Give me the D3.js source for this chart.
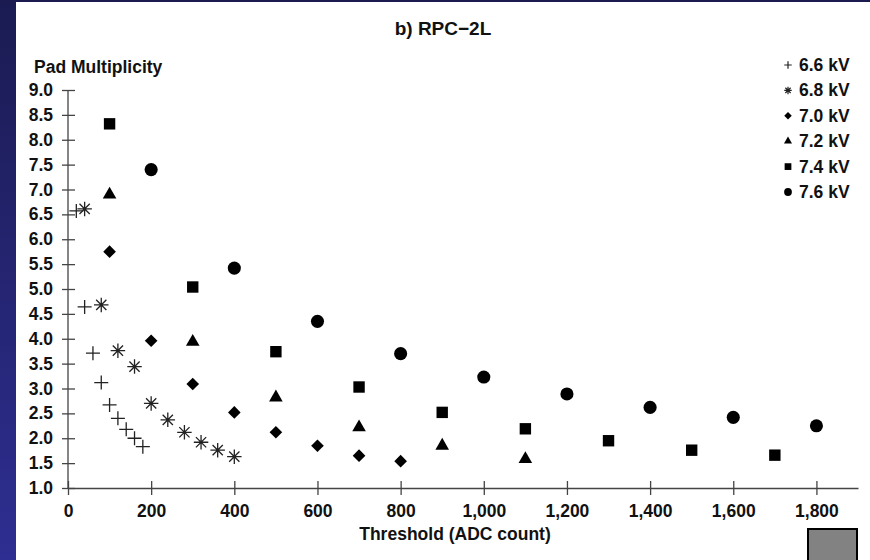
<!DOCTYPE html>
<html>
<head>
  <meta charset="utf-8">
  <script src="https://cdn.jsdelivr.net/npm/d3@7"></script>
  <style>
    body { margin: 0; background: #fff; }
    svg text { font-family: "Liberation Sans", Arial, sans-serif; font-weight: bold; fill: #111; }
  </style>
</head>
<body>
<div id="container"></div>
<script>
const width = 870, height = 560;

// data: threshold (ADC count) vs pad multiplicity
const series = ["6.6 kV", "6.8 kV", "7.0 kV", "7.2 kV", "7.4 kV", "7.6 kV"];

const th66 = [20, 40, 60, 80, 100, 120, 140, 160, 180];
const pm66 = [6.57, 4.64, 3.71, 3.12, 2.67, 2.40, 2.18, 2.00, 1.83];

const th68 = [40, 80, 120, 160, 200, 240, 280, 320, 360, 400];
const pm68 = [6.61, 4.68, 3.76, 3.44, 2.70, 2.37, 2.12, 1.92, 1.76, 1.63];

const th70 = [100, 200, 300, 400, 500, 600, 700, 800];
const pm70 = [5.75, 3.96, 3.09, 2.52, 2.12, 1.85, 1.65, 1.54];

const th72 = [100, 300, 500, 700, 900, 1100];
const pm72 = [6.90, 3.94, 2.82, 2.22, 1.85, 1.58];

const th74 = [100, 300, 500, 700, 900, 1100, 1300, 1500, 1700];
const pm74 = [8.32, 5.04, 3.74, 3.03, 2.52, 2.19, 1.95, 1.76, 1.66];

const th76 = [200, 400, 600, 800, 1000, 1200, 1400, 1600, 1800];
const pm76 = [7.40, 5.42, 4.35, 3.70, 3.23, 2.89, 2.62, 2.42, 2.25];

const xTicks = [0, 200, 400, 600, 800, 1000, 1200, 1400, 1600, 1800];
const yTicks = [1.0, 1.5, 2.0, 2.5, 3.0, 3.5, 4.0, 4.5, 5.0, 5.5, 6.0, 6.5, 7.0, 7.5, 8.0, 8.5, 9.0];

// thin line symbols
const plus = {
  draw(ctx, size) {
    const r = Math.sqrt(size) / 2;
    ctx.moveTo(-r, 0); ctx.lineTo(r, 0);
    ctx.moveTo(0, -r); ctx.lineTo(0, r);
  }
};
const star = {
  draw(ctx, size) {
    const r = Math.sqrt(size) / 2;
    for (let k = 0; k < 4; k++) {
      const a = k * Math.PI / 4;
      ctx.moveTo(-r * Math.cos(a), -r * Math.sin(a));
      ctx.lineTo(r * Math.cos(a), r * Math.sin(a));
    }
  }
};
// square turned 45 degrees
const rhomb = {
  draw(ctx, size) {
    const r = Math.sqrt(size / 2);
    ctx.moveTo(0, -r); ctx.lineTo(r, 0); ctx.lineTo(0, r); ctx.lineTo(-r, 0);
    ctx.closePath();
  }
};

const groups = [
  {name: series[0], xs: th66, ys: pm66, type: plus, size: 196, stroke: true},
  {name: series[1], xs: th68, ys: pm68, type: star, size: 210, stroke: true},
  {name: series[2], xs: th70, ys: pm70, type: rhomb, size: 80, stroke: false},
  {name: series[3], xs: th72, ys: pm72, type: d3.symbolTriangle, size: 80, stroke: false},
  {name: series[4], xs: th74, ys: pm74, type: d3.symbolSquare, size: 130, stroke: false},
  {name: series[5], xs: th76, ys: pm76, type: d3.symbolCircle, size: 135, stroke: false}
];

const svg = d3.select("#container").append("svg")
  .attr("width", width)
  .attr("height", height);

const defs = svg.append("defs");
const grad = defs.append("linearGradient").attr("id", "edge")
  .attr("x1", 0).attr("y1", 0).attr("x2", 0).attr("y2", 1);
grad.append("stop").attr("offset", "0%").attr("stop-color", "#1b1b52");
grad.append("stop").attr("offset", "100%").attr("stop-color", "#2e2e92");

svg.append("rect").attr("width", width).attr("height", height).attr("fill", "url(#edge)");
svg.append("rect").attr("x", 16).attr("y", 2).attr("width", width - 16).attr("height", height - 2).attr("fill", "#fff");

const x = d3.scaleLinear().domain([0, 1900]).range([68, 858]);
const y = d3.scaleLinear().domain([1, 9]).range([488, 90]);

// x axis
const gx = svg.append("g")
  .attr("transform", `translate(0,${y(1)})`)
  .call(d3.axisBottom(x).tickValues(xTicks).tickFormat(d3.format(",")).tickSizeOuter(0).tickSizeInner(7).tickPadding(10));
gx.selectAll(".tick line").attr("y1", -7);

// y axis
const gy = svg.append("g")
  .attr("transform", `translate(${x(0)},0)`)
  .call(d3.axisLeft(y).tickValues(yTicks).tickFormat(d3.format(".1f")).tickSizeOuter(0).tickSizeInner(6).tickPadding(9));
gy.selectAll(".tick line").attr("x1", 7);

svg.selectAll(".domain, .tick line").attr("stroke", "#444").attr("stroke-width", 1.3);
svg.selectAll(".tick text").style("font-size", "17.5px").attr("fill", "#111");
gy.select(".domain").attr("d", `M0,${y(1)}V${y(9)}`);

// titles
svg.append("text").attr("x", 443).attr("y", 35).attr("text-anchor", "middle")
  .style("font-size", "19px").text("b) RPC\u22122L");
svg.append("text").attr("x", 34).attr("y", 73)
  .style("font-size", "17.5px").text("Pad Multiplicity");
svg.append("text").attr("x", 455).attr("y", 540).attr("text-anchor", "middle")
  .style("font-size", "17.5px").text("Threshold (ADC count)");

// points
groups.forEach(function(g) {
  const sym = d3.symbol().type(g.type).size(g.size);
  svg.append("g").selectAll("path")
    .data(g.xs.map((v, i) => [v, g.ys[i]]))
    .enter()
    .append("path")
    .attr("transform", d => `translate(${x(d[0])},${y(d[1])})`)
    .attr("d", sym)
    .attr("fill", g.stroke ? "none" : "#000")
    .attr("stroke", g.stroke ? "#222" : "none")
    .attr("stroke-width", 1.3);
});

// legend
const leg = svg.append("g").attr("transform", "translate(788,65)");
groups.forEach(function(g, i) {
  const row = leg.append("g").attr("transform", `translate(0,${i * 25.4})`);
  row.append("path")
    .attr("d", d3.symbol().type(g.type).size(g.stroke ? 56 : g.size * 0.35))
    .attr("fill", g.stroke ? "none" : "#000")
    .attr("stroke", g.stroke ? "#222" : "none")
    .attr("stroke-width", 1.2);
  row.append("text").attr("x", 11).attr("y", 6).style("font-size", "17.5px").text(g.name);
});

// grey box in the corner
svg.append("rect").attr("x", 808).attr("y", 529).attr("width", 49).attr("height", 40)
  .attr("fill", "#828282").attr("stroke", "#000").attr("stroke-width", 2);
</script>
</body>
</html>
